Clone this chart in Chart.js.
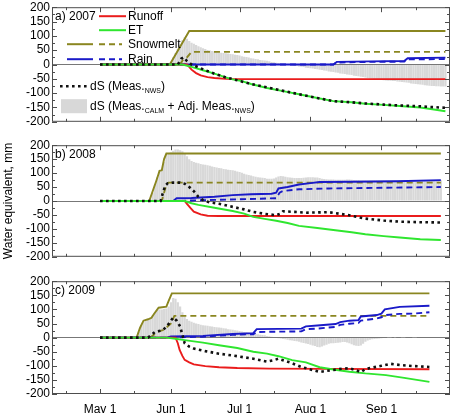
<!DOCTYPE html>
<html>
<head>
<meta charset="utf-8">
<script src="https://cdn.jsdelivr.net/npm/chart.js@4.4.0/dist/chart.umd.min.js"></script>
<style>
  body { margin: 0; background: #fff; width: 452px; height: 413px; overflow: hidden; position: relative; }
  canvas { position: absolute; left: 0; }
</style>
</head>
<body>
<canvas id="chart2007" width="452" height="133" style="top:-2px"></canvas>
<canvas id="chart2008" width="452" height="130" style="top:136px"></canvas>
<canvas id="chart2009" width="452" height="141" style="top:272px"></canvas>
<script>
// x values are days since May 1
var monthDays = [0, 31, 61, 92, 123];
var monthLabels = ['May 1', 'Jun 1', 'Jul 1', 'Aug 1', 'Sep 1'];
var midMonthDays = [-15, 15, 46, 76, 107, 138];
var yTicks = [-200, -150, -100, -50, 0, 50, 100, 150, 200];
var yMinorTicks = [-175, -125, -75, -25, 25, 75, 125, 175];

//2007
var snow2007 = [[0,0],[30.5,0],[39,117],[151,117]];
var snowAdj2007 = [[0,0],[35,0],[36.5,20],[38,25],[40,44],[151,44]];
var rain2007 = [[0,0],[102,0],[103.5,9],[118,11],[133,12],[134.5,22],[151,24]];
var rainAdj2007 = [[0,0],[102,0],[103.5,7],[118,9],[133,10],[134.5,18],[151,19]];
var runoff2007 = [[0,0],[38,0],[39,-8],[40,-18],[42,-30],[44,-38],[47,-44],[50,-47],[55,-50],[60,-51],[151,-51]];
var et2007 = [[0,0],[36,0],[40,-8],[45,-20],[50,-32],[55,-45],[58,-52],[62,-58],[66,-68],[73,-82],[80,-93],[87,-104],[95,-117],[102,-128],[110,-132],[116,-137],[124,-141],[131,-145],[140,-150],[146,-157],[151,-163]];
var dsNws2007 = [[0,0],[34,0],[35.5,20],[36.5,25],[38,12],[40,0],[43,-10],[46,-20],[50,-32],[55,-45],[60,-55],[66,-68],[73,-80],[80,-92],[87,-104],[95,-117],[102,-128],[110,-132],[116,-136],[124,-140],[131,-143],[140,-146],[146,-149],[151,-151]];
var calmStart2007 = 31;
var calm2007 = [10,25,40,55,70,85,95,90,82,76,72,68,64,60,57,54,51,49,47,45,43,42,41,40,39,38,37,36,34,33,
  31,29,27,26,24,22,21,19,18,16,15,14,13,11,9,8,6,5,3,2,1,0,-1,-2,-4,-5,-7,-8,-9,-11,
  -12,-13,-14,-16,-17,-18,-19,-21,-22,-24,-25,-26,-28,-29,-31,-32,-33,-35,-36,-37,-39,-40,-41,-43,-44,-45,-47,-48,-49,-51,
  -52,-53,-54,-55,-56,-57,-57,-58,-58,-59,-60,-61,-62,-63,-64,-66,-67,-68,-69,-70,-71,-72,-73,-74,-75,-75,-76,-76,-77,-77,-77];

//2008
var snow2008 = [[0,0],[21.5,0],[23,35],[24.5,70],[25.5,95],[26,108],[27,110],[28,150],[29,170],[149,170]];
var snowAdj2008 = [[0,0],[27,0],[28,30],[29,60],[30,66],[149,66]];
var rain2008 = [[0,0],[32,0],[33.5,10],[40,11],[50,15],[58,21],[66,24],[75,26],[77,30],[78,45],[82,50],[87,59],[92,64],[96,68],[110,69],[130,71],[149,75]];
var rainAdj2008 = [[0,0],[35,0],[40,2],[50,4],[60,6],[70,8],[77,10],[78.5,30],[80,36],[87,42],[100,45],[120,47],[149,50]];
var runoff2008 = [[0,0],[37,0],[38,-10],[39.5,-25],[41,-38],[44,-48],[47,-53],[52,-54],[149,-54]];
var et2008 = [[0,0],[37,0],[40,-8],[43,-14],[50,-24],[58,-36],[63,-45],[67,-57],[72,-64],[77,-71],[82,-79],[87,-89],[95,-97],[102,-104],[110,-112],[116,-119],[124,-126],[131,-131],[140,-137],[149,-140]];
var dsNws2008 = [[0,0],[26.5,0],[27.5,30],[28.5,55],[29.5,63],[32,66],[35,66],[37,62],[39,50],[41,35],[43,15],[45,3],[48,-5],[52,-10],[58,-21],[63,-30],[67,-39],[72,-46],[77,-51],[79,-45],[80,-37],[85,-39],[90,-42],[95,-41],[100,-40],[105,-46],[109,-51],[113,-58],[116,-63],[124,-70],[131,-74],[140,-76],[149,-77]];
var calmStart2008 = 22;
var calm2008 = [5,30,60,85,105,115,140,165,172,175,180,185,185,182,178,172,160,150,143,140,137,135,133,131,130,128,126,124,122,120,
  118,117,115,114,112,111,110,108,106,104,101,98,95,93,91,89,87,85,84,83,82,80,80,80,81,84,88,90,89,87,
  85,84,83,82,82,82,82,83,84,85,85,85,84,84,82,80,79,78,77,77,77,76,76,76,76,76,77,77,76,75,
  75,75,74,74,74,74,74,74,74,74,74,74,74,74,74,74,74,74,74,74,74,74,74,74,74,74,74,74,74,74,74,74,74,74,74,74,74,74];

//2009
var snow2009 = [[0,0],[16,0],[17.5,35],[19,60],[21,65],[22.5,70],[23.5,83],[25.6,106],[29,110],[30,130],[31.4,157],[144,157]];
var snowAdj2009 = [[0,0],[22,0],[25,20],[28,28],[31,50],[32.5,77],[144,77]];
var rain2009 = [[0,0],[29,0],[31,4],[45,6],[58,13],[67,16],[68.5,30],[88,32],[90,40],[95,43],[103,48],[105,55],[109,60],[113,62],[114,75],[121,80],[123,85],[124.5,100],[131,109],[144,113]];
var rainAdj2009 = [[0,0],[30,0],[45,3],[58,10],[67,12],[68.5,20],[88,22],[90,30],[95,32],[103,38],[105,45],[109,49],[113,52],[114,60],[121,68],[123,72],[124.5,80],[131,84],[137,85],[144,90]];
var runoff2009 = [[0,0],[33,0],[34,-20],[34.8,-44],[36,-65],[37,-79],[39,-88],[41,-95],[46,-101],[52,-105],[60,-108],[74,-110],[100,-111],[144,-112]];
var et2009 = [[0,0],[29,0],[33,-4],[37,-9],[45,-18],[52,-27],[60,-37],[67,-50],[73,-57],[78,-66],[84,-80],[90,-88],[96,-105],[102,-113],[109,-121],[116,-127],[125,-133],[133,-143],[144,-157]];
var dsNws2009 = [[0,0],[21,0],[24,20],[27,25],[29,37],[31,60],[32,71],[33.5,60],[35,40],[37,-20],[39,-32],[41,-39],[46,-48],[52,-57],[60,-66],[67,-75],[73,-85],[76,-80],[78,-75],[83,-88],[88,-104],[92,-113],[96,-122],[99,-118],[102,-115],[106,-110],[109,-109],[112,-116],[114,-122],[116,-112],[118,-108],[123,-100],[127,-93],[131,-97],[137,-101],[144,-104]];
var calmStart2009 = 16;
var calm2009 = [5,20,40,55,60,62,70,78,88,98,100,100,102,103,110,125,140,138,125,110,90,75,66,60,56,53,50,48,46,44,
  43,42,40,39,38,37,36,35,33,32,30,29,28,26,25,23,22,20,19,18,16,15,13,12,10,9,8,6,5,3,
  2,0,-2,-3,-5,-6,-8,-9,-10,-12,-13,-15,-17,-19,-21,-23,-25,-28,-30,-33,-34,-32,-28,-25,-22,-20,-20,-19,-18,-17,
  -16,-16,-17,-20,-24,-27,-29,-30,-28,-22,-15,-10,-8,-6,-5,-4,-3,-2,-1,0,1,1,2,1,0,0,1,1,0,0,0,1,1,0,0,0,0,0,0];

var red = '#ea1c1c', green = '#2fe62f', olive = '#8a8620', blue = '#1a1ac8', black = '#111111', calmGray = '#d8d8d8';
var fontFamily = '"Liberation Sans", Arial, sans-serif';
Chart.defaults.font.family = fontFamily;
Chart.defaults.font.size = 12;
Chart.defaults.color = '#000';

function pts(pairs) {
  return pairs.map(function (p) { return { x: p[0], y: p[1] }; });
}
function bars(start, vals) {
  return vals.map(function (v, i) { return { x: start + i, y: v }; });
}
function lineSet(label, data, color, dash, order) {
  return { type: 'line', label: label, data: pts(data), borderColor: color, borderWidth: 1.9,
    borderDash: dash, pointRadius: 0, fill: false, tension: 0, order: order };
}

// frame, inward ticks, panel label
var axisFrame = {
  id: 'axisFrame',
  afterDraw: function (chart, args, opts) {
    var ctx = chart.ctx, a = chart.chartArea, x = chart.scales.x, y = chart.scales.y;
    ctx.save();
    ctx.strokeStyle = '#4d4d4d';
    ctx.lineWidth = 1;
    ctx.strokeRect(a.left + 0.5, a.top + 0.5, a.right - a.left - 1, a.bottom - a.top - 1);
    ctx.beginPath();
    monthDays.concat(midMonthDays).forEach(function (d) {
      var px = Math.round(x.getPixelForValue(d)) + 0.5;
      var len = monthDays.indexOf(d) >= 0 ? 5 : 3;
      ctx.moveTo(px, a.bottom); ctx.lineTo(px, a.bottom - len);
      ctx.moveTo(px, a.top); ctx.lineTo(px, a.top + len);
    });
    yTicks.concat(yMinorTicks).forEach(function (v) {
      var py = Math.round(y.getPixelForValue(v)) + 0.5;
      var len = yTicks.indexOf(v) >= 0 ? 5 : 3;
      ctx.moveTo(a.left, py); ctx.lineTo(a.left + len, py);
      ctx.moveTo(a.right, py); ctx.lineTo(a.right - len, py);
    });
    ctx.stroke();
    ctx.fillStyle = '#000';
    ctx.font = '12px ' + fontFamily;
    ctx.textBaseline = 'middle';
    ctx.textAlign = 'left';
    ctx.fillText(opts.label, a.left + 3, a.top + 9);
    if (opts.yTitle) {
      ctx.translate(9, (a.top + a.bottom) / 2);
      ctx.rotate(-Math.PI / 2);
      ctx.textAlign = 'center';
      ctx.fillText(opts.yTitle, 0, 0);
    }
    ctx.restore();
  }
};

// legend of panel a
function subText(ctx, parts, x, y) {
  parts.forEach(function (p) {
    ctx.font = p[1] + 'px ' + fontFamily;
    ctx.fillText(p[0], x, y + p[2]);
    x += ctx.measureText(p[0]).width;
  });
}
var legendA = {
  id: 'legendA',
  afterDraw: function (chart) {
    var ctx = chart.ctx, a = chart.chartArea;
    var ox = a.left, oy = a.top;
    function seg(x1, x2, y, color, dash, w) {
      ctx.beginPath();
      ctx.setLineDash(dash);
      ctx.strokeStyle = color;
      ctx.lineWidth = w;
      ctx.moveTo(ox + x1, oy + y);
      ctx.lineTo(ox + x2, oy + y);
      ctx.stroke();
    }
    ctx.save();
    seg(47, 74, 9, red, [], 2);
    seg(47, 74, 23, green, [], 2);
    seg(15, 41, 37, olive, [], 2);
    seg(47, 70, 37, olive, [6, 4], 2);
    seg(15, 41, 52, blue, [], 2);
    seg(47, 70, 52, blue, [6, 4], 2);
    seg(8, 35, 79, black, [2.6, 3.4], 2.6);
    ctx.setLineDash([]);
    ctx.fillStyle = calmGray;
    ctx.fillRect(ox + 9, oy + 92, 26, 14);
    ctx.fillStyle = '#000';
    ctx.textBaseline = 'middle';
    ctx.textAlign = 'left';
    ctx.font = '12px ' + fontFamily;
    ctx.fillText('Runoff', ox + 76, oy + 9);
    ctx.fillText('ET', ox + 76, oy + 23);
    ctx.fillText('Snowmelt', ox + 76, oy + 37);
    ctx.fillText('Rain', ox + 76, oy + 52);
    subText(ctx, [['dS (Meas.', 12, 0], ['NWS', 7, 5], [')', 12, 0]], ox + 38, oy + 79);
    subText(ctx, [['dS (Meas.', 12, 0], ['CALM', 7, 5], [' + Adj. Meas.', 12, 0], ['NWS', 7, 5], [')', 12, 0]], ox + 38, oy + 99);
    ctx.restore();
  }
};

function makeChart(id, s, opts) {
  var ctx = document.getElementById(id);
  return new Chart(ctx, {
    type: 'line',
    data: {
      datasets: [
        { type: 'bar', label: 'dS (Meas.CALM + Adj. Meas.NWS)', data: bars(s.calmStart, s.calm),
          backgroundColor: calmGray, barPercentage: 0.97, categoryPercentage: 1, grouped: false, order: 10 },
        lineSet('Snowmelt', s.snow, olive, [], 6),
        lineSet('Snowmelt (adj.)', s.snowAdj, olive, [6, 4], 5),
        lineSet('Rain', s.rain, blue, [], 4),
        lineSet('Rain (adj.)', s.rainAdj, blue, [6, 4], 3),
        lineSet('Runoff', s.runoff, red, [], 2),
        lineSet('ET', s.et, green, [], 1),
        { type: 'line', label: 'dS (Meas.NWS)', data: pts(s.dsNws), borderColor: black, borderWidth: 2.6,
          borderDash: [2.6, 3.4], pointRadius: 0, fill: false, tension: 0, order: 0 }
      ]
    },
    options: {
      responsive: false,
      animation: false,
      layout: { padding: { top: 8, bottom: opts.showDates ? 0 : 8, left: 0, right: 2 } },
      plugins: {
        legend: { display: false },
        tooltip: { enabled: false },
        axisFrame: { label: opts.label, yTitle: opts.yTitle }
      },
      scales: {
        x: {
          type: 'linear', min: -21, max: 153, offset: false,
          display: opts.showDates,
          afterBuildTicks: function (scale) { scale.ticks = monthDays.map(function (v) { return { value: v }; }); },
          afterFit: function (scale) { scale.height = opts.showDates ? 19 : 0; },
          ticks: { autoSkip: false, maxRotation: 0, padding: 0,
            callback: function (v) { return monthLabels[monthDays.indexOf(v)]; } },
          grid: { display: false, offset: false },
          border: { display: false }
        },
        y: {
          min: -200, max: 200,
          afterBuildTicks: function (scale) { scale.ticks = yTicks.map(function (v) { return { value: v }; }); },
          afterFit: function (scale) { scale.width = 52; },
          ticks: { padding: 2, autoSkip: false },
          grid: { drawTicks: false, lineWidth: 1,
            color: function (c) { return c.tick && c.tick.value === 0 ? '#777' : 'rgba(0,0,0,0)'; } },
          border: { display: false }
        }
      }
    },
    plugins: opts.legend ? [axisFrame, legendA] : [axisFrame]
  });
}

makeChart('chart2007', { snow: snow2007, snowAdj: snowAdj2007, rain: rain2007, rainAdj: rainAdj2007, runoff: runoff2007,
  et: et2007, dsNws: dsNws2007, calmStart: calmStart2007, calm: calm2007 }, { label: 'a) 2007', showDates: false, legend: true });
makeChart('chart2008', { snow: snow2008, snowAdj: snowAdj2008, rain: rain2008, rainAdj: rainAdj2008, runoff: runoff2008,
  et: et2008, dsNws: dsNws2008, calmStart: calmStart2008, calm: calm2008 }, { label: 'b) 2008', showDates: false, yTitle: 'Water equivalent, mm' });
makeChart('chart2009', { snow: snow2009, snowAdj: snowAdj2009, rain: rain2009, rainAdj: rainAdj2009, runoff: runoff2009,
  et: et2009, dsNws: dsNws2009, calmStart: calmStart2009, calm: calm2009 }, { label: 'c) 2009', showDates: true });
</script>
</body>
</html>
